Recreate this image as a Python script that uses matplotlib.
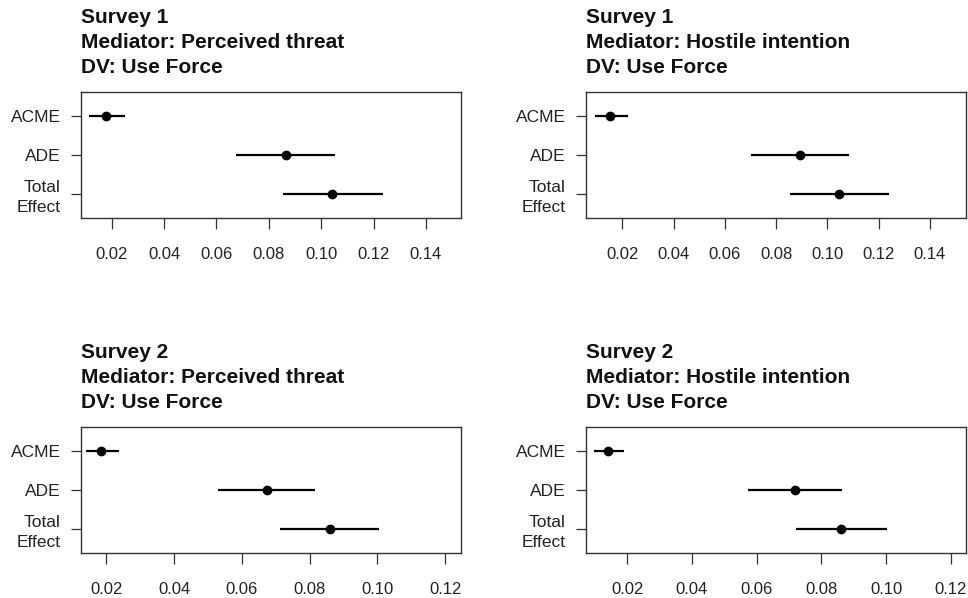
import matplotlib
matplotlib.use("Agg")
import matplotlib.pyplot as plt

plt.rcParams["font.family"] = ["Liberation Sans", "DejaVu Sans"]

effects = ["ACME", "ADE", "Total\nEffect"]

titles = [
    ["Survey 1", "Mediator: Perceived threat", "DV: Use Force"],
    ["Survey 1", "Mediator: Hostile intention", "DV: Use Force"],
    ["Survey 2", "Mediator: Perceived threat", "DV: Use Force"],
    ["Survey 2", "Mediator: Hostile intention", "DV: Use Force"],
]

# point estimates and 95% intervals: ACME, ADE, Total Effect
s1_threat_est = [0.0178, 0.0864, 0.1042]
s1_threat_lo = [0.0112, 0.0673, 0.0853]
s1_threat_hi = [0.0251, 0.1051, 0.1237]

s1_hostile_est = [0.0153, 0.0893, 0.1044]
s1_hostile_lo = [0.0092, 0.0701, 0.0855]
s1_hostile_hi = [0.0221, 0.1085, 0.1241]

s2_threat_est = [0.0184, 0.0674, 0.0859]
s2_threat_lo = [0.0139, 0.0529, 0.0713]
s2_threat_hi = [0.0237, 0.0817, 0.1005]

s2_hostile_est = [0.0140, 0.0719, 0.0860]
s2_hostile_lo = [0.0097, 0.0573, 0.0721]
s2_hostile_hi = [0.0191, 0.0865, 0.1004]

panels = [
    (s1_threat_est, s1_threat_lo, s1_threat_hi),
    (s1_hostile_est, s1_hostile_lo, s1_hostile_hi),
    (s2_threat_est, s2_threat_lo, s2_threat_hi),
    (s2_hostile_est, s2_hostile_lo, s2_hostile_hi),
]

xticks_top = [0.02, 0.04, 0.06, 0.08, 0.10, 0.12, 0.14]
xticks_bottom = [0.02, 0.04, 0.06, 0.08, 0.10, 0.12]
xticks = [xticks_top, xticks_top, xticks_bottom, xticks_bottom]
xlims = [(0.0083, 0.1534), (0.0058, 0.1541), (0.0125, 0.1247), (0.0073, 0.1247)]

W, H = 968, 598
# axes boxes in pixels: left, top, right, bottom
boxes = [
    (81, 92, 461, 218),
    (586, 92, 966, 218),
    (81, 427, 461, 553),
    (586, 427, 966, 553),
]

fig = plt.figure(figsize=(W / 100, H / 100), dpi=100)
fig.patch.set_facecolor("white")

box_col = "#333333"
ypos = [3, 2, 1]

for i, (est, lo, hi) in enumerate(panels):
    l, t, r, b = boxes[i]
    ax = fig.add_axes([l / W, 1 - b / H, (r - l) / W, (b - t) / H])

    for y, e, a, z in zip(ypos, est, lo, hi):
        ax.plot([a, z], [y, y], color="black", lw=1.6, solid_capstyle="butt")
        ax.plot(e, y, "o", color="black", ms=6)

    ax.set_xlim(*xlims[i])
    ax.set_ylim(0.37, 3.63)
    ax.set_xticks(xticks[i])
    ax.set_xticklabels([f"{v:.2f}" for v in xticks[i]])
    ax.set_yticks(ypos)
    ax.set_yticklabels(effects, linespacing=1.4)

    for sp in ax.spines.values():
        sp.set_color(box_col)
        sp.set_linewidth(1.0)
    ax.tick_params(axis="x", length=8, width=0.9, color=box_col,
                   labelsize=12, pad=13, labelcolor="#222222")
    ax.tick_params(axis="y", length=7.5, width=0.9, color=box_col,
                   labelsize=12.5, pad=7, labelcolor="#222222")

    # three-line bold heading, left aligned with the box
    offsets = [49.4, 31.6, 13.9]
    for line, off in zip(titles[i], offsets):
        ax.annotate(line, xy=(0, 1), xycoords="axes fraction",
                    xytext=(0, off), textcoords="offset points",
                    ha="left", va="baseline", fontsize=15,
                    fontweight="bold", color="#111111")

fig.savefig("out.png", dpi=100, facecolor=fig.get_facecolor())
